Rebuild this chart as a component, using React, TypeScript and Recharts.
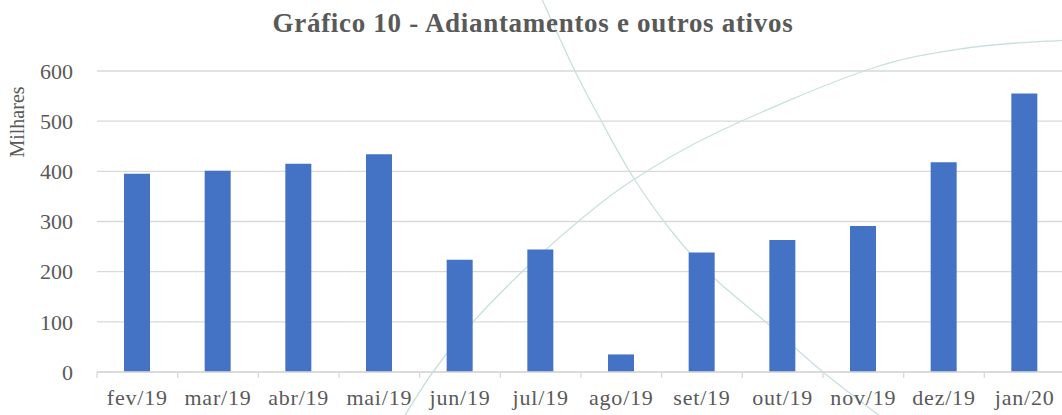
import React from "react";
import { BarChart, Bar, XAxis, YAxis, CartesianGrid } from "recharts";

const months = [
  "fev/19", "mar/19", "abr/19", "mai/19", "jun/19", "jul/19",
  "ago/19", "set/19", "out/19", "nov/19", "dez/19", "jan/20",
];
const values = [395, 401, 415, 434, 224, 244, 35, 238, 263, 291, 418, 555];
const yTicks = [0, 100, 200, 300, 400, 500, 600];

const data = months.map((m, i) => ({ month: m, value: values[i] }));

// decorative watermark curves from the background of the original
const curveDown: [number, number][] = [
  [540, -5], [573, 67], [597, 113], [633, 177], [673, 233], [713, 277],
  [767, 323], [823, 372], [885, 420],
];
const curveUp: [number, number][] = [
  [402, 420], [433, 372], [473, 322], [527, 267], [580, 220], [633, 180],
  [720, 131], [867, 70], [967, 48], [1066, 40],
];

const smooth = (pts: [number, number][]) => {
  let d = `M${pts[0][0]},${pts[0][1]}`;
  for (let i = 0; i < pts.length - 1; i++) {
    const p0 = pts[i - 1] || pts[i];
    const p1 = pts[i];
    const p2 = pts[i + 1];
    const p3 = pts[i + 2] || p2;
    const c1x = p1[0] + (p2[0] - p0[0]) / 6;
    const c1y = p1[1] + (p2[1] - p0[1]) / 6;
    const c2x = p2[0] - (p3[0] - p1[0]) / 6;
    const c2y = p2[1] - (p3[1] - p1[1]) / 6;
    d += ` C${c1x},${c1y} ${c2x},${c2y} ${p2[0]},${p2[1]}`;
  }
  return d;
};

const FONT = "'Liberation Serif', 'Times New Roman', serif";
const TEXT = "#595959";
const CHART_W = 1066;
const LEFT = 97;
const RIGHT = 1;
const BAND = (CHART_W - LEFT - RIGHT) / months.length;

const MonthTick: React.FC<any> = (props) => {
  const { x, y, payload } = props;
  const bx = x - BAND / 2;
  return (
    <g>
      <line x1={bx} y1={y} x2={bx} y2={y + 6} stroke="#d9d9d9" strokeWidth={1.3} />
      <text
        x={x}
        y={y + 33}
        textAnchor="middle"
        fill={TEXT}
        fontSize={22}
        letterSpacing={0.8}
        fontFamily={FONT}
      >
        {payload.value}
      </text>
    </g>
  );
};

export default function App() {
  return (
    <div
      style={{
        position: "absolute",
        left: 0,
        top: 0,
        width: 1062,
        height: 415,
        overflow: "hidden",
        background: "#fff",
      }}
    >
      <svg
        width={1062}
        height={415}
        style={{ position: "absolute", left: 0, top: 0 }}
      >
        <path d={smooth(curveDown)} fill="none" stroke="#c8e0df" strokeWidth={1.3} />
        <path d={smooth(curveUp)} fill="none" stroke="#c8e0df" strokeWidth={1.3} />
        <text
          x={533}
          y={32}
          textAnchor="middle"
          fill={TEXT}
          fontSize={27}
          fontWeight="bold"
          letterSpacing={0.7}
          fontFamily={FONT}
        >
          Gráfico 10 - Adiantamentos e outros ativos
        </text>
        <text
          x={0}
          y={0}
          transform="translate(24,122) rotate(-90)"
          textAnchor="middle"
          fill={TEXT}
          fontSize={20}
          fontFamily={FONT}
        >
          Milhares
        </text>
      </svg>
      <div style={{ position: "absolute", left: 0, top: 0 }}>
        <BarChart
          width={CHART_W}
          height={415}
          data={data}
          margin={{ top: 71, right: RIGHT, bottom: 0, left: 0 }}
        >
          <CartesianGrid vertical={false} stroke="#d9d9d9" strokeWidth={1.3} />
          <XAxis
            dataKey="month"
            height={43}
            interval={0}
            tickLine={false}
            tickSize={0}
            tickMargin={0}
            axisLine={{ stroke: "#d9d9d9", strokeWidth: 1.3 }}
            tick={<MonthTick />}
          />
          <YAxis
            width={LEFT}
            domain={[0, 600]}
            ticks={yTicks}
            axisLine={false}
            tickLine={false}
            tickSize={0}
            tickMargin={24}
            tick={{ fill: TEXT, fontSize: 22, fontFamily: FONT }}
          />
          <Bar dataKey="value" fill="#4472c4" barSize={26} isAnimationActive={false} />
        </BarChart>
      </div>
    </div>
  );
}
